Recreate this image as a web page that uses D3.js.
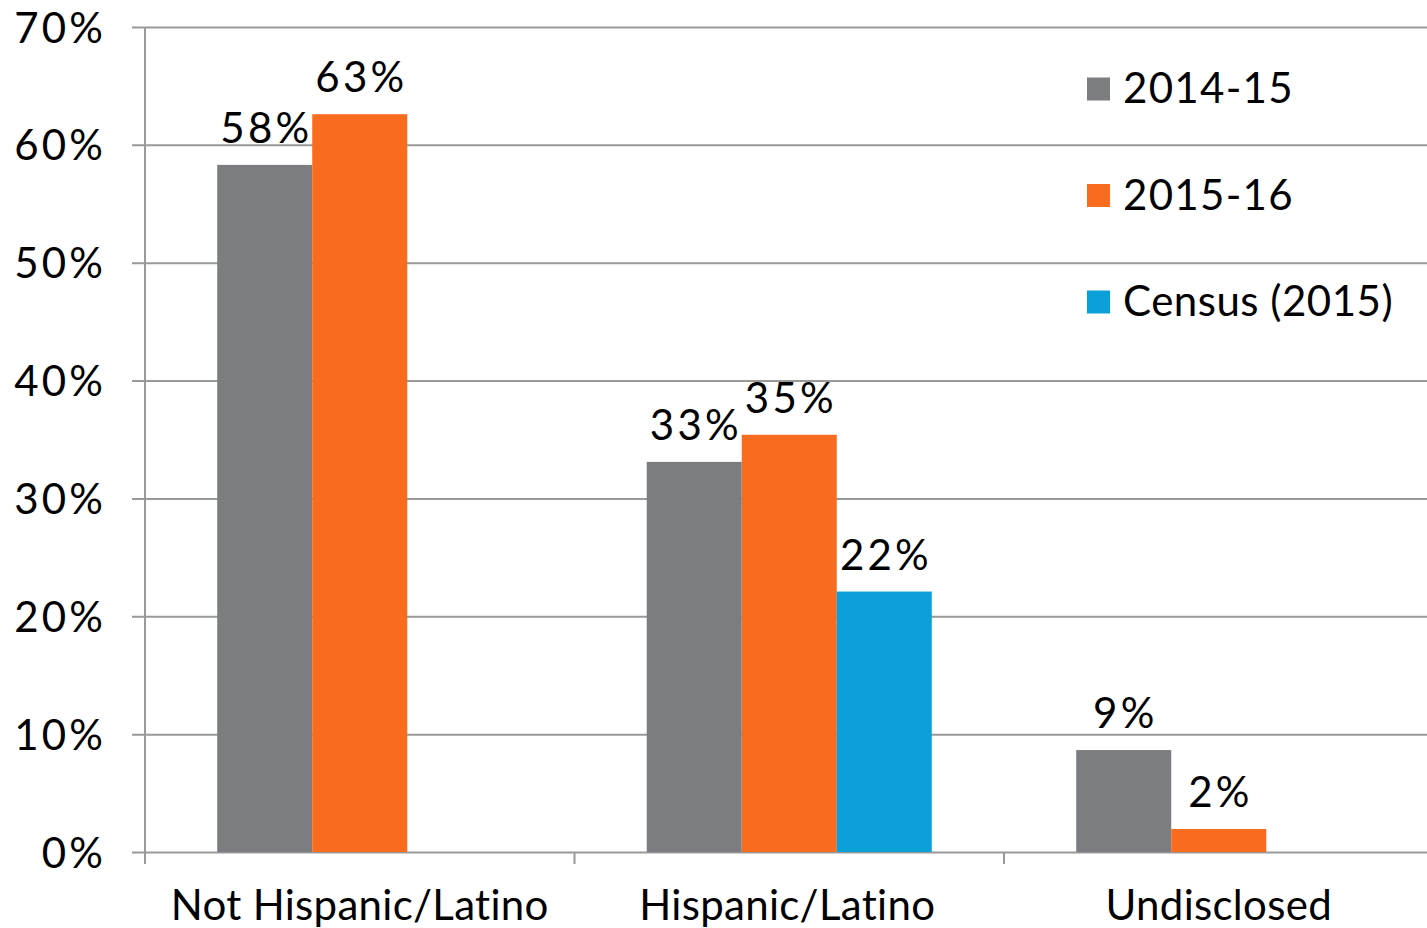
<!DOCTYPE html>
<html>
<head>
<meta charset="utf-8">
<script src="https://cdn.jsdelivr.net/npm/d3@7"></script>
<style>
  html, body { margin: 0; padding: 0; background: #fff; overflow: hidden; }
  svg { display: block; }
  text { font-family: "Lato", "Open Sans", sans-serif; fill: #000; }
</style>
</head>
<body>
<svg id="chart" width="1427" height="928"></svg>
<script>
const categories = ["Not Hispanic/Latino", "Hispanic/Latino", "Undisclosed"];
const seriesNames = ["2014-15", "2015-16", "Census (2015)"];
const seriesColors = ["#7c7d80", "#f96b1e", "#0ba0d8"];
const values2014 = [58.3, 33.1, 8.65];
const values2015 = [62.6, 35.4, 1.95];
const valuesCensus = [null, 22.1, null];
const yTicks = [0, 10, 20, 30, 40, 50, 60, 70];

const seriesValues = [values2014, values2015, valuesCensus];

(function () {
const svg = d3.select("#chart");
const pLeft = 145, pRight = 1433.5, pTop = 27, pBottom = 852;
const fontSize = 42;
const numSpacing = 3.2;
const gridColor = "#999999";

const y = d3.scaleLinear().domain([0, 70]).range([pBottom, pTop]);
const x0 = d3.scaleBand().domain(categories).range([pLeft, pRight]).paddingInner(0).paddingOuter(0);
const x1 = d3.scaleBand().domain(seriesNames).range([0, x0.bandwidth()]).paddingInner(0).paddingOuter(0.76);

// gridlines + y axis
const yAxis = d3.axisLeft(y).tickValues(yTicks).tickSize(pRight - 132).tickFormat(d => d + "%").tickPadding(0);
const gy = svg.append("g").attr("transform", `translate(${pRight},0)`).call(yAxis);
gy.select(".domain").remove();
gy.selectAll(".tick line").attr("stroke", gridColor).attr("stroke-width", 2);
gy.selectAll(".tick text")
  .attr("x", -(pRight - 103 - numSpacing))
  .attr("dy", "0.36em")
  .attr("text-anchor", "end")
  .style("font-size", fontSize + "px")
  .style("letter-spacing", numSpacing + "px")
  .style("font-family", "Lato, sans-serif")
  .attr("fill", "#000");

// left axis line
svg.append("line").attr("x1", pLeft).attr("x2", pLeft).attr("y1", pTop).attr("y2", 863)
  .attr("stroke", gridColor).attr("stroke-width", 2);

// bottom category ticks
svg.append("g").selectAll("line")
  .data(categories.map(c => x0(c) + x0.bandwidth()).concat([pLeft]))
  .join("line")
  .attr("x1", d => d).attr("x2", d => d)
  .attr("y1", pBottom).attr("y2", 864)
  .attr("stroke", gridColor).attr("stroke-width", 2);

// category labels
svg.append("g").selectAll("text")
  .data(categories)
  .join("text")
  .attr("x", (d, i) => x0(d) + x0.bandwidth() / 2 + [0, -2, 0][i])
  .attr("y", 920)
  .attr("text-anchor", "middle")
  .style("font-size", fontSize + "px")
  .style("letter-spacing", "0.3px")
  .text(d => d);

// bars
const barData = [];
categories.forEach((c, i) => {
  seriesNames.forEach((s, j) => {
    const v = seriesValues[j][i];
    if (v !== null) barData.push({ c, s, v, color: seriesColors[j] });
  });
});

const gBars = svg.append("g");
gBars.selectAll("rect")
  .data(barData)
  .join("rect")
  .attr("x", d => x0(d.c) + x1(d.s))
  .attr("width", x1.bandwidth())
  .attr("y", d => y(d.v))
  .attr("height", d => y(0) - y(d.v))
  .attr("fill", d => d.color);

gBars.selectAll("text")
  .data(barData)
  .join("text")
  .attr("x", d => x0(d.c) + x1(d.s) + x1.bandwidth() / 2 + numSpacing / 2)
  .attr("y", d => y(d.v) - 22)
  .attr("text-anchor", "middle")
  .style("font-size", fontSize + "px")
  .style("letter-spacing", numSpacing + "px")
  .text(d => Math.round(d.v) + "%");

// legend
const legend = svg.append("g");
seriesNames.forEach((s, i) => {
  const cy = 89 + i * 106.5;
  legend.append("rect").attr("x", 1087).attr("y", cy - 11.5).attr("width", 23).attr("height", 23).attr("fill", seriesColors[i]);
  legend.append("text").attr("x", 1123).attr("y", cy + 14)
    .style("font-size", fontSize + "px")
    .style("letter-spacing", i < 2 ? "1.3px" : "0.5px")
    .text(s);
});
})();
</script>
</body>
</html>
